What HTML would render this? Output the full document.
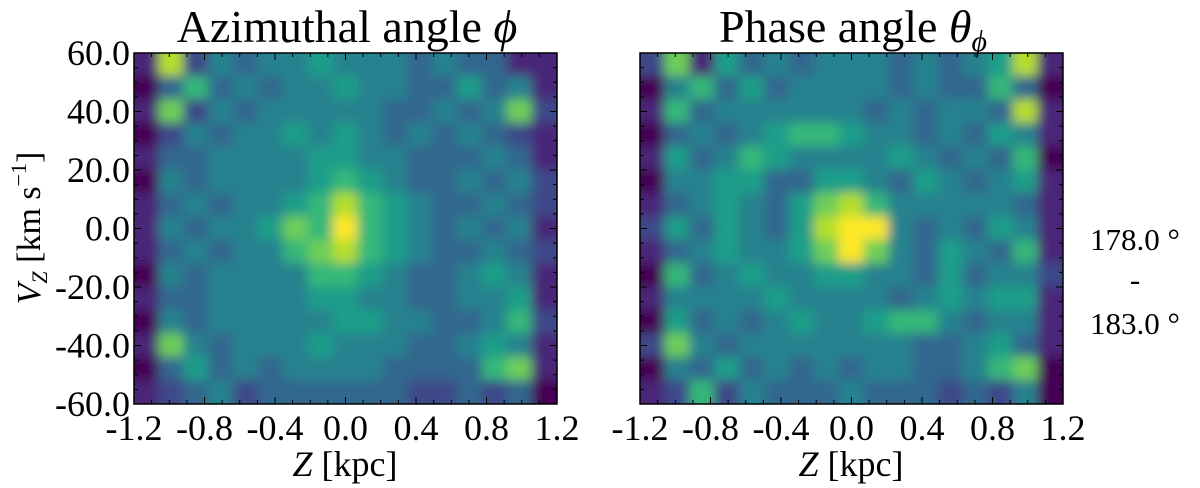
<!DOCTYPE html>
<html><head><meta charset="utf-8"><style>
body{margin:0;background:#fff;}
svg{display:block;font-family:"Liberation Serif",serif;}
</style></head><body>
<svg id="chart" width="1200" height="488" viewBox="0 0 1200 488">
<defs>
<filter id="blur" x="-10%" y="-10%" width="120%" height="120%"><feGaussianBlur stdDeviation="5.5"/></filter>
<clipPath id="clipL"><rect x="134" y="53" width="423" height="351"/></clipPath>
<clipPath id="clipR"><rect x="640" y="53" width="423" height="351"/></clipPath>
</defs>
<g id="panels"></g>
<text x="347" y="42" font-size="46" text-anchor="middle">Azimuthal angle <tspan font-style="italic">ϕ</tspan></text>
<text x="853" y="42" font-size="46" text-anchor="middle">Phase angle <tspan font-style="italic">θ</tspan><tspan font-style="italic" font-size="30" dy="9">ϕ</tspan></text>
<text transform="translate(40,228) rotate(-90)" font-size="34" text-anchor="middle"><tspan font-style="italic">V</tspan><tspan font-style="italic" font-size="22" dy="7">Z</tspan><tspan dy="-7"> [km s</tspan><tspan font-size="22" dy="-14">−1</tspan><tspan dy="14">]</tspan></text>
<text x="345" y="476" font-size="36" text-anchor="middle"><tspan font-style="italic">Z</tspan> [kpc]</text>
<text x="851" y="476" font-size="36" text-anchor="middle"><tspan font-style="italic">Z</tspan> [kpc]</text>
<text x="1135" y="250" font-size="31" text-anchor="middle">178.0 °</text>
<text x="1135" y="290" font-size="31" text-anchor="middle">-</text>
<text x="1135" y="334" font-size="31" text-anchor="middle">183.0 °</text>
</svg>
<script>
const zTicks = [-1.2,-0.8,-0.4,0.0,0.4,0.8,1.2];
const vTicks = [60,40,20,0,-20,-40,-60];
const zRange = [-1.2,1.2];
const vRange = [-60,60];
const azimuthalGrid = [
[1,8,2,4,3,4,4,5,4,4,4,3,4,3,3,1,1],
[0,3,6,3,4,3,4,4,5,4,4,3,3,5,3,4,1],
[1,7,2,4,3,4,4,4,4,4,3,3,4,3,4,7,2],
[0,2,4,3,4,4,5,4,5,4,3,4,3,4,3,2,1],
[1,3,3,4,4,4,4,5,5,4,4,3,3,3,4,3,1],
[0,4,3,4,4,4,4,5,6,5,4,3,3,4,3,4,2],
[1,3,4,3,4,4,5,6,8,6,5,4,3,3,4,3,2],
[1,4,3,4,4,5,7,6,9,6,5,4,3,4,3,4,1],
[1,3,4,3,4,4,6,7,8,6,5,4,3,3,4,3,2],
[0,4,3,4,4,4,4,6,6,5,4,3,3,4,5,4,1],
[1,3,3,4,4,4,4,5,5,4,4,3,3,4,4,5,1],
[0,4,3,4,4,4,4,4,5,5,4,4,3,3,4,6,2],
[1,7,4,3,4,4,4,5,4,4,4,3,3,4,5,4,1],
[0,3,5,3,4,3,4,4,4,4,3,3,3,3,6,7,1],
[1,2,3,4,2,3,3,3,3,3,3,2,2,3,2,3,0]];
const phaseGrid = [
[2,7,1,5,3,4,3,4,4,4,3,4,3,4,5,8,1],
[0,4,6,3,5,3,4,4,4,4,3,4,3,3,6,3,0],
[1,6,3,4,4,4,4,4,4,3,4,3,4,4,3,8,1],
[0,3,4,3,4,5,6,6,5,4,4,3,4,3,5,4,1],
[1,5,3,4,6,5,4,4,4,4,5,4,3,4,3,6,0],
[0,4,4,5,5,3,3,5,5,4,3,5,4,3,4,5,1],
[1,3,4,5,4,3,5,7,8,6,4,4,4,4,4,3,1],
[2,5,3,5,4,3,5,8,9,9,4,3,4,3,5,4,1],
[1,3,4,5,4,4,5,7,9,7,4,3,5,4,3,6,1],
[0,6,3,4,5,4,4,5,5,4,4,3,5,3,4,4,2],
[1,4,4,4,4,5,4,4,4,4,3,4,5,4,5,5,1],
[0,5,3,4,3,4,5,4,4,5,6,6,4,3,4,4,1],
[2,7,4,3,4,4,4,4,4,4,4,3,3,4,5,3,1],
[0,4,3,5,3,4,3,4,3,4,4,3,3,4,6,7,0],
[1,2,6,2,4,3,3,3,4,3,3,3,2,3,2,4,0]];
const viridis = ["#440154","#482878","#3e4a89","#31688e","#26828e","#1f9e89","#35b779","#6ece58","#b5de2b","#fde725"];
const NS="http://www.w3.org/2000/svg";
const svg=document.getElementById('panels');
function mk(t,a,p){const e=document.createElementNS(NS,t);for(const k in a)e.setAttribute(k,a[k]);(p||svg).appendChild(e);return e;}
const PT=53,PB=404,PW=423,EXT=25;
function drawPanel(x0,grid,clip,showY,name){
  const xs=z=>x0+(z-zRange[0])/(zRange[1]-zRange[0])*PW;
  const ys=v=>PB-(v-vRange[0])/(vRange[1]-vRange[0])*(PB-PT);
  const g=mk('g',{'clip-path':'url(#'+clip+')'});
  
  
  const inner=mk('g',{filter:'url(#blur)'},g);
  const rows=grid.length,cols=grid[0].length;
  const dz=(zRange[1]-zRange[0])/cols,dv=(vRange[1]-vRange[0])/rows;
  grid.forEach((row,r)=>row.forEach((val,c)=>{
    const z=zRange[0]+c*dz, v=vRange[1]-r*dv;
    let x1=xs(z),x2=xs(z+dz),y1=ys(v),y2=ys(v-dv);
    if(c===0)x1-=EXT; if(c===cols-1)x2+=EXT; if(r===0)y1-=EXT; if(r===rows-1)y2+=EXT;
    const cell=mk('rect',{x:x1-0.5,y:y1-0.5,width:x2-x1+1,height:y2-y1+1,fill:viridis[Math.max(0,Math.min(9,val))]},inner);
    
    
  }));
  const fr=mk('rect',{x:x0,y:PT,width:PW,height:PB-PT,fill:'none',stroke:'#000','stroke-width':1.5});
  
  
  for(let i=-12;i<=12;i++){
    const z=i/10;const major=i%4===0;const L=major?7:4;const x=xs(z);
    mk('line',{x1:x,x2:x,y1:PB,y2:PB-L,stroke:'#000','stroke-width':1});
    mk('line',{x1:x,x2:x,y1:PT,y2:PT+L,stroke:'#000','stroke-width':1});
  }
  for(let v=-60;v<=60;v+=5){
    const major=v%20===0;const L=major?7:4;const y=ys(v);
    mk('line',{x1:x0,x2:x0+L,y1:y,y2:y,stroke:'#000','stroke-width':1});
    mk('line',{x1:x0+PW,x2:x0+PW-L,y1:y,y2:y,stroke:'#000','stroke-width':1});
  }
  zTicks.forEach(z=>{
    const t=mk('text',{x:xs(z),y:PB+36,'font-size':36,'text-anchor':'middle'});
    t.textContent=z.toFixed(1);
    
    
  });
  if(showY) vTicks.forEach(v=>{
    const t=mk('text',{x:x0-4,y:ys(v)+12,'font-size':36,'text-anchor':'end'});
    t.textContent=v.toFixed(1);
    
    
  });
}
drawPanel(134,azimuthalGrid,'clipL',true,'azimuthal');
drawPanel(640,phaseGrid,'clipR',false,'phase');
</script>
</body></html>
